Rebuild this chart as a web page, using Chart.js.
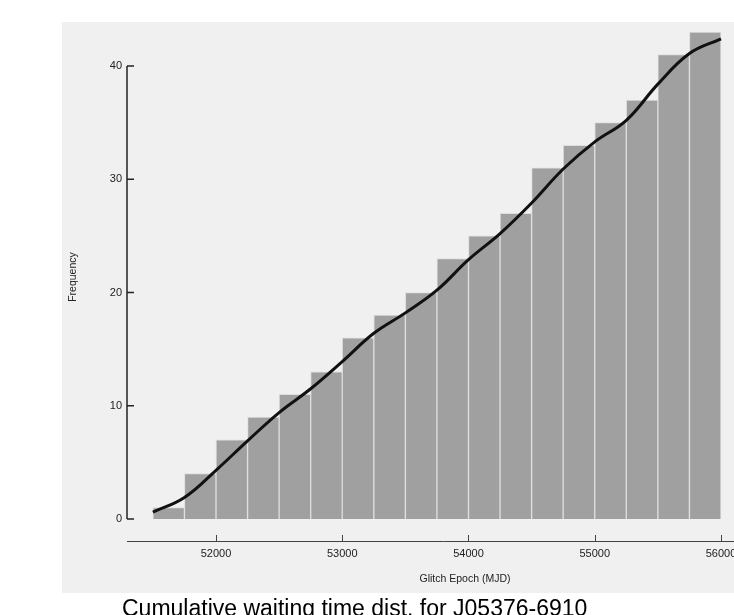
<!DOCTYPE html>
<html>
<head>
<meta charset="utf-8">
<script src="https://cdn.jsdelivr.net/npm/chart.js@4/dist/chart.umd.min.js"></script>
<style>
  html, body { margin: 0; padding: 0; background: #fff; }
  #wrap { width: 734px; height: 615px; overflow: hidden; }
</style>
</head>
<body>
<div id="wrap"><canvas id="myChart" width="760" height="615"></canvas></div>
<script>
// histogram bins (MJD centres, 250 wide) and cumulative counts
let binMid = [51625,51875,52125,52375,52625,52875,53125,53375,53625,53875,54125,54375,54625,54875,55125,55375,55625,55875];
let counts = [1,4,7,9,11,13,16,18,20,23,25,27,31,33,35,37,41,43];

// smooth curve
let curveX = [51500,51750,52000,52250,52500,52750,53000,53250,53500,53750,54000,54250,54500,54750,55000,55250,55500,55750,56000];
let curveY = [0.6,1.9,4.3,6.9,9.4,11.5,13.9,16.4,18.2,20.2,22.9,25.2,27.9,30.9,33.3,35.2,38.4,41.1,42.4];

let xTicks = [52000,53000,54000,55000,56000];
let yTicks = [0,10,20,30,40];

const axisFont = { family: "'Liberation Sans', Arial, sans-serif", size: 11 };

const panel = {
  id: 'panel',
  beforeDraw(chart) {
    const c = chart.ctx;
    c.save();
    c.fillStyle = '#fff';
    c.fillRect(0, 0, chart.width, chart.height);
    c.fillStyle = '#f0f0f0';
    c.fillRect(62, 22, chart.width - 62, 571);
    c.restore();
  },
  afterDraw(chart) {
    const c = chart.ctx;
    const xs = chart.scales.x, ys = chart.scales.y;
    const a = chart.chartArea;
    c.save();
    // y axis, only over the tick range
    c.strokeStyle = '#222';
    c.lineWidth = 1.5;
    c.beginPath();
    c.moveTo(a.left, ys.getPixelForValue(yTicks[0]));
    c.lineTo(a.left, ys.getPixelForValue(yTicks[yTicks.length - 1]));
    yTicks.forEach(v => {
      let y = ys.getPixelForValue(v);
      c.moveTo(a.left, y);
      c.lineTo(a.left + 7, y);
    });
    c.stroke();
    // x axis along the bottom
    c.strokeStyle = '#444';
    c.lineWidth = 1;
    c.beginPath();
    c.moveTo(a.left, a.bottom + 0.5);
    c.lineTo(chart.width, a.bottom + 0.5);
    xTicks.forEach(v => {
      let x = Math.round(xs.getPixelForValue(v)) + 0.5;
      c.moveTo(x, a.bottom);
      c.lineTo(x, a.bottom - 6);
    });
    c.stroke();

    // axis titles
    c.fillStyle = '#222';
    c.font = "10.5px 'Liberation Sans', Arial, sans-serif";
    c.textAlign = 'center';
    c.textBaseline = 'middle';
    c.fillText('Glitch Epoch (MJD)', 465, 579);
    c.translate(73, 277);
    c.rotate(-Math.PI / 2);
    c.fillText('Frequency', 0, 0);
    c.restore();

    // main title below the panel
    c.save();
    c.fillStyle = '#000';
    c.font = "23px 'Liberation Sans', Arial, sans-serif";
    c.textAlign = 'left';
    c.textBaseline = 'alphabetic';
    c.fillText('Cumulative waiting time dist. for J05376-6910', 122, 616);
    c.restore();
  }
};

new Chart(document.getElementById('myChart'), {
  type: 'bar',
  data: {
    datasets: [{
      type: 'line',
      data: curveX.map((x, i) => ({ x: x, y: curveY[i] })),
      borderColor: '#111',
      borderWidth: 3,
      pointRadius: 0,
      tension: 0.4,
      fill: false,
      order: 0
    }, {
      type: 'bar',
      data: binMid.map((x, i) => ({ x: x, y: counts[i] })),
      backgroundColor: '#a0a0a0',
      borderColor: '#dedede',
      borderWidth: 1,
      borderSkipped: 'bottom',
      barPercentage: 1,
      categoryPercentage: 1,
      order: 1
    }]
  },
  options: {
    responsive: false,
    animation: false,
    layout: { padding: { top: 20, left: 0, right: 0, bottom: 0 } },
    plugins: { legend: { display: false }, tooltip: { enabled: false }, title: { display: false } },
    scales: {
      x: {
        type: 'linear',
        offset: false,
        min: 51295,
        max: 56309,
        grid: { display: false, drawTicks: false },
        border: { display: false },
        ticks: { font: axisFont, color: '#222', padding: 6, maxRotation: 0, autoSkip: false,
          callback: v => String(v) },
        afterBuildTicks: s => { s.ticks = xTicks.map(v => ({ value: v })); },
        afterFit: s => { s.height = 74; }
      },
      y: {
        min: -1.943,
        max: 44.06,
        grid: { display: false, drawTicks: false },
        border: { display: false },
        ticks: { font: axisFont, color: '#222', padding: 5 },
        afterBuildTicks: s => { s.ticks = yTicks.map(v => ({ value: v })); },
        afterFit: s => { s.width = 127; }
      }
    }
  },
  plugins: [panel]
});
</script>
</body>
</html>
